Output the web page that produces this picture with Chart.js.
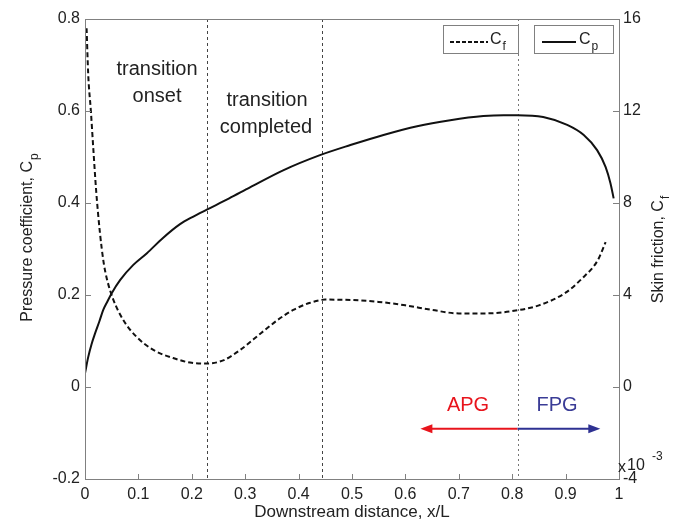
<!DOCTYPE html>
<html>
<head>
<meta charset="utf-8">
<script src="https://cdn.jsdelivr.net/npm/chart.js@4.4.0/dist/chart.umd.min.js"></script>
<style>
    html, body { margin: 0; padding: 0; background: #fff; }
    #wrap { width: 691px; height: 524px; }
</style>
</head>
<body>
<div id="wrap"><canvas id="flowChart"></canvas></div>
<script>
// pressure coefficient (left axis)
const cpX = [0, 0.006, 0.012, 0.019, 0.027, 0.034, 0.042, 0.05, 0.066, 0.09, 0.116, 0.146, 0.178, 0.202, 0.229, 0.27, 0.309, 0.371, 0.44, 0.497, 0.559, 0.622, 0.684, 0.746, 0.784, 0.81, 0.858, 0.903, 0.934, 0.959, 0.975, 0.984, 0.99];
const cpY = [0.03, 0.065, 0.092, 0.117, 0.143, 0.167, 0.186, 0.204, 0.233, 0.265, 0.291, 0.324, 0.354, 0.37, 0.386, 0.41, 0.434, 0.471, 0.504, 0.526, 0.548, 0.567, 0.58, 0.589, 0.591, 0.591, 0.587, 0.57, 0.548, 0.515, 0.478, 0.443, 0.41];

// skin friction x 10^-3 (right axis)
const cfX = [0.003, 0.006, 0.011, 0.016, 0.021, 0.028, 0.035, 0.041, 0.053, 0.072, 0.097, 0.128, 0.165, 0.2, 0.229, 0.26, 0.29, 0.33, 0.36, 0.39, 0.42, 0.45, 0.5, 0.55, 0.6, 0.65, 0.7, 0.75, 0.8, 0.85, 0.9, 0.93, 0.96, 0.975];
const cfY = [15.6, 13.6, 12.0, 10.2, 8.5, 6.7, 5.4, 4.7, 3.8, 2.9, 2.17, 1.61, 1.26, 1.05, 1.02, 1.17, 1.6, 2.35, 2.9, 3.35, 3.65, 3.8, 3.78, 3.7, 3.55, 3.35, 3.2, 3.2, 3.3, 3.55, 4.1, 4.7, 5.5, 6.3];

// ticks
const xTicks = [0, 0.1, 0.2, 0.3, 0.4, 0.5, 0.6, 0.7, 0.8, 0.9, 1];
const cpTicks = [-0.2, 0, 0.2, 0.4, 0.6, 0.8];
const cfTicks = [-4, 0, 4, 8, 12, 16];

// markers
const markerX = [0.229, 0.444, 0.81];
const apgArrow = [0.81, 0.628];
const fpgArrow = [0.81, 0.965];
const arrowCp = -0.091;

const FONT = "'Liberation Sans', Arial, sans-serif";
const TEXT = "#222";
const AXIS = "#808080";

function toPoints(xs, ys) {
    return xs.map((x, i) => ({ x: x, y: ys[i] }));
}

function drawSub(ctx, main, sub, x, y, size, align) {
    ctx.font = size + "px " + FONT;
    const w1 = ctx.measureText(main).width;
    ctx.font = Math.round(size * 0.72) + "px " + FONT;
    const w2 = ctx.measureText(sub).width;
    let sx = x;
    if (align === "center") sx = x - (w1 + w2) / 2;
    ctx.textAlign = "left";
    ctx.textBaseline = "middle";
    ctx.font = size + "px " + FONT;
    ctx.fillText(main, sx, y);
    ctx.font = Math.round(size * 0.72) + "px " + FONT;
    ctx.fillText(sub, sx + w1 + 1, y + size * 0.4);
}

function arrow(ctx, x1, x2, y, color) {
    const dir = x2 > x1 ? 1 : -1;
    ctx.strokeStyle = color;
    ctx.fillStyle = color;
    ctx.lineWidth = 2;
    ctx.beginPath();
    ctx.moveTo(x1, y);
    ctx.lineTo(x2 - dir * 6, y);
    ctx.stroke();
    ctx.beginPath();
    ctx.moveTo(x2, y);
    ctx.lineTo(x2 - dir * 12, y - 4.5);
    ctx.lineTo(x2 - dir * 12, y + 4.5);
    ctx.closePath();
    ctx.fill();
}

const fixSize = (w, h) => scale => {
    if (w !== null) scale.width = w;
    if (h !== null) scale.height = h;
    scale.paddingLeft = 0;
    scale.paddingRight = 0;
    scale.paddingTop = 0;
    scale.paddingBottom = 0;
};

const decorations = {
    id: "decorations",
    beforeDatasetsDraw(chart) {
        const ctx = chart.ctx;
        const a = chart.chartArea;
        const xs = chart.scales.x;
        ctx.save();
        ctx.lineWidth = 1;
        markerX.forEach((m, i) => {
            const px = Math.round(xs.getPixelForValue(m)) + 0.5;
            ctx.strokeStyle = i < 2 ? "#444" : "#777";
            ctx.setLineDash(i < 2 ? [3, 3] : [2, 3]);
            ctx.beginPath();
            ctx.moveTo(px, a.top);
            ctx.lineTo(px, a.bottom);
            ctx.stroke();
        });
        ctx.restore();
    },
    afterDraw(chart) {
        const ctx = chart.ctx;
        const a = chart.chartArea;
        const xs = chart.scales.x;
        const yl = chart.scales.yCp;
        const yr = chart.scales.yCf;
        ctx.save();

        // frame and inward ticks
        ctx.strokeStyle = AXIS;
        ctx.lineWidth = 1;
        ctx.strokeRect(a.left + 0.5, a.top + 0.5, a.right - a.left, a.bottom - a.top);
        ctx.beginPath();
        xTicks.forEach(t => {
            const px = Math.round(xs.getPixelForValue(t)) + 0.5;
            ctx.moveTo(px, a.bottom);
            ctx.lineTo(px, a.bottom - 5);
        });
        cpTicks.forEach(t => {
            const py = Math.round(yl.getPixelForValue(t)) + 0.5;
            ctx.moveTo(a.left, py);
            ctx.lineTo(a.left + 6, py);
        });
        cfTicks.forEach(t => {
            const py = Math.round(yr.getPixelForValue(t)) + 0.5;
            ctx.moveTo(a.right, py);
            ctx.lineTo(a.right - 6, py);
        });
        ctx.stroke();

        // annotations
        ctx.fillStyle = TEXT;
        ctx.font = "20px " + FONT;
        ctx.textAlign = "center";
        ctx.textBaseline = "middle";
        ctx.fillText("transition", 157, 69);
        ctx.fillText("onset", 157, 96);
        ctx.fillText("transition", 267, 100);
        ctx.fillText("completed", 266, 127);

        // APG / FPG
        const ay = yl.getPixelForValue(arrowCp);
        arrow(ctx, xs.getPixelForValue(apgArrow[0]), xs.getPixelForValue(apgArrow[1]), ay, "#e8141c");
        arrow(ctx, xs.getPixelForValue(fpgArrow[0]), xs.getPixelForValue(fpgArrow[1]), ay, "#2e3192");
        ctx.font = "20px " + FONT;
        ctx.fillStyle = "#e8141c";
        ctx.fillText("APG", 468, 405);
        ctx.fillStyle = "#3a3c96";
        ctx.fillText("FPG", 557, 405);

        // legend boxes
        ctx.fillStyle = "#fff";
        ctx.strokeStyle = AXIS;
        ctx.lineWidth = 1;
        ctx.fillRect(443, 25, 75, 28);
        ctx.strokeRect(443.5, 25.5, 75, 28);
        ctx.fillRect(534, 25, 79, 28);
        ctx.strokeRect(534.5, 25.5, 79, 28);
        ctx.strokeStyle = "#111";
        ctx.lineWidth = 2;
        ctx.setLineDash([4, 2]);
        ctx.beginPath();
        ctx.moveTo(450, 42);
        ctx.lineTo(488, 42);
        ctx.stroke();
        ctx.setLineDash([]);
        ctx.beginPath();
        ctx.moveTo(542, 42);
        ctx.lineTo(576, 42);
        ctx.stroke();
        ctx.fillStyle = TEXT;
        drawSub(ctx, "C", "f", 490, 40, 16, "left");
        drawSub(ctx, "C", "p", 579, 40, 16, "left");

        // axis titles
        ctx.save();
        ctx.translate(28, 238);
        ctx.rotate(-Math.PI / 2);
        drawSub(ctx, "Pressure coefficient, C", "p", 0, 0, 16, "center");
        ctx.restore();
        ctx.save();
        ctx.translate(659, 250);
        ctx.rotate(-Math.PI / 2);
        drawSub(ctx, "Skin friction, C", "f", 0, 0, 16, "center");
        ctx.restore();
        ctx.font = "17px " + FONT;
        ctx.textAlign = "center";
        ctx.textBaseline = "middle";
        ctx.fillText("Downstream distance, x/L", (a.left + a.right) / 2, 512);

        // exponent
        ctx.textAlign = "left";
        ctx.font = "16px " + FONT;
        ctx.fillText("x", 618, 468);
        ctx.fillText("10", 627, 466);
        ctx.font = "12px " + FONT;
        ctx.fillText("-3", 652, 457);

        ctx.restore();
    }
};

const ctx = document.getElementById("flowChart").getContext("2d");
const chart = new Chart(ctx, {
    type: "line",
    data: {
        datasets: [{
            label: "Cf",
            data: toPoints(cfX, cfY),
            yAxisID: "yCf",
            borderColor: "#111",
            borderWidth: 2,
            borderDash: [5, 3],
            pointRadius: 0,
            cubicInterpolationMode: "monotone",
            fill: false
        }, {
            label: "Cp",
            data: toPoints(cpX, cpY),
            yAxisID: "yCp",
            borderColor: "#111",
            borderWidth: 2,
            pointRadius: 0,
            cubicInterpolationMode: "monotone",
            fill: false
        }]
    },
    options: {
        responsive: true,
        maintainAspectRatio: false,
        animation: false,
        layout: { padding: { top: 19, left: 0, right: 0, bottom: 0 } },
        plugins: {
            legend: { display: false },
            tooltip: { enabled: false }
        },
        scales: {
            x: {
                type: "linear",
                min: 0,
                max: 1,
                afterBuildTicks: s => { s.ticks = xTicks.map(v => ({ value: v })); },
                afterFit: fixSize(null, 45),
                grid: { display: false, drawTicks: false },
                border: { display: false },
                ticks: {
                    padding: 6,
                    color: TEXT,
                    font: { family: FONT, size: 16 },
                    maxRotation: 0,
                    callback: v => String(+v.toFixed(1))
                }
            },
            yCp: {
                type: "linear",
                position: "left",
                min: -0.2,
                max: 0.8,
                afterBuildTicks: s => { s.ticks = cpTicks.map(v => ({ value: v })); },
                afterFit: fixSize(85, null),
                grid: { display: false, drawTicks: false },
                border: { display: false },
                ticks: {
                    padding: 5,
                    color: TEXT,
                    font: { family: FONT, size: 16 },
                    callback: v => String(+v.toFixed(1))
                }
            },
            yCf: {
                type: "linear",
                position: "right",
                min: -4,
                max: 16,
                afterBuildTicks: s => { s.ticks = cfTicks.map(v => ({ value: v })); },
                afterFit: fixSize(72, null),
                grid: { display: false, drawTicks: false },
                border: { display: false },
                ticks: {
                    padding: 4,
                    color: TEXT,
                    font: { family: FONT, size: 16 },
                    callback: v => String(v)
                }
            }
        }
    },
    plugins: [decorations]
});
</script>
</body>
</html>
